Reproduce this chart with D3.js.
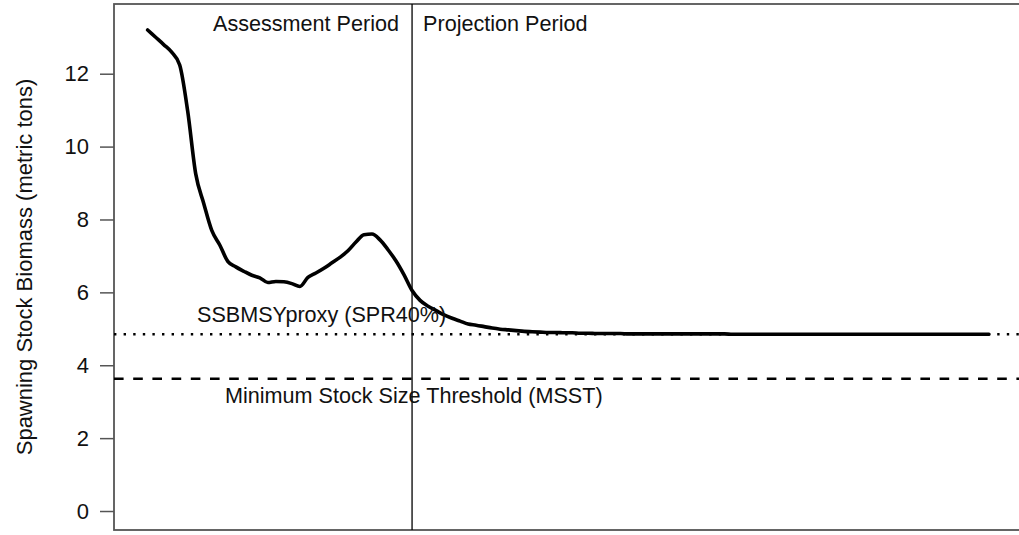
<!DOCTYPE html>
<html>
<head>
<meta charset="utf-8">
<script src="https://cdn.jsdelivr.net/npm/d3@7"></script>
<style>
  body { margin: 0; background: #fff; }
  text { font-family: "Liberation Sans", Arial, sans-serif; fill: #111; }
</style>
</head>
<body>
<svg width="1019" height="535"></svg>
<script>
// assessment period (annual SSB, metric tons)
const assessYears = [1986, 1987, 1988, 1989, 1990, 1991, 1992, 1993, 1994, 1995,
  1996, 1997, 1998, 1999, 2000, 2001, 2002, 2003, 2004, 2005, 2006, 2007, 2008,
  2009, 2010, 2011, 2012, 2013, 2014, 2015, 2016, 2017, 2018, 2019]
const assessSSB = [13.20, 13.00, 12.80, 12.59, 12.24, 10.97, 9.25, 8.44, 7.70, 7.30,
  6.85, 6.70, 6.58, 6.47, 6.40, 6.27, 6.30, 6.29, 6.24, 6.16, 6.41, 6.53, 6.66,
  6.81, 6.96, 7.14, 7.38, 7.58, 7.60, 7.44, 7.17, 6.86, 6.48, 6.05]

// projection period
const projYears = [2020, 2021, 2022, 2023, 2024, 2025, 2026, 2027, 2028, 2029,
  2030, 2031, 2032, 2033, 2034, 2035, 2036, 2037, 2038, 2039, 2040, 2041, 2042,
  2043, 2044, 2045, 2046, 2047, 2048, 2049, 2050, 2051, 2052, 2053, 2054, 2055,
  2056, 2057, 2058, 2059, 2060, 2061, 2062, 2063, 2064, 2065, 2066, 2067, 2068,
  2069, 2070, 2071, 2072, 2073, 2074, 2075, 2076, 2077, 2078, 2079, 2080, 2081,
  2082, 2083, 2084, 2085, 2086, 2087, 2088, 2089, 2090, 2091]
const projSSB = [5.78, 5.62, 5.50, 5.38, 5.29, 5.21, 5.13, 5.10, 5.06, 5.02,
  4.99, 4.97, 4.95, 4.93, 4.92, 4.91, 4.90, 4.90, 4.89, 4.89, 4.88, 4.88, 4.87,
  4.87, 4.87, 4.87, 4.86, 4.86, 4.86, 4.86, 4.86, 4.86, 4.86, 4.86, 4.86, 4.86,
  4.86, 4.86, 4.86, 4.85, 4.85, 4.85, 4.85, 4.85, 4.85, 4.85, 4.85, 4.85, 4.85,
  4.85, 4.85, 4.85, 4.85, 4.85, 4.85, 4.85, 4.85, 4.85, 4.85, 4.85, 4.85, 4.85,
  4.85, 4.85, 4.85, 4.85, 4.85, 4.85, 4.85, 4.85, 4.85, 4.85]

const ssbMsyProxy = 4.85
const msst = 3.63
const lastAssessYear = 2019
const yTicks = [0, 2, 4, 6, 8, 10, 12]

const svg = d3.select("svg")

let x = d3.scaleLinear().domain([1981.8, 2095.2]).range([114, 1022.6])
let y = d3.scaleLinear().domain([-0.521, 13.913]).range([530, 4])

let series = assessYears.map((yr, i) => ({year: yr, ssb: assessSSB[i]}))
  .concat(projYears.map((yr, i) => ({year: yr, ssb: projSSB[i]})))

// plot box (right side falls off the picture)
svg.append("rect")
    .attr("x", x.range()[0])
    .attr("y", y.range()[1])
    .attr("width", x.range()[1] - x.range()[0])
    .attr("height", y.range()[0] - y.range()[1])
    .attr("fill", "none")
    .attr("stroke", "#555")
    .attr("stroke-width", 1.8)

// y axis
let yAxis = d3.axisLeft(y).tickValues(yTicks).tickSize(14).tickPadding(11)
let gy = svg.append("g")
    .attr("transform", `translate(${x.range()[0]},0)`)
    .call(yAxis)
gy.select(".domain").remove()
gy.selectAll(".tick line").attr("stroke", "#555").attr("stroke-width", 1.5)
gy.selectAll(".tick text")
    .style("font-size", "22px")
    .style("font-family", "'Liberation Sans', Arial, sans-serif")
    .attr("fill", "#111")

svg.append("text")
    .attr("transform", `translate(32,267) rotate(-90)`)
    .attr("text-anchor", "middle")
    .style("font-size", "22px")
    .text("Spawning Stock Biomass (metric tons)")

// reference lines
svg.append("line")
    .attr("x1", x.range()[0]).attr("x2", 1019)
    .attr("y1", y(ssbMsyProxy)).attr("y2", y(ssbMsyProxy))
    .attr("stroke", "#000").attr("stroke-width", 2.5)
    .attr("stroke-dasharray", "2.4,7.2")

svg.append("line")
    .attr("x1", x.range()[0]).attr("x2", 1019)
    .attr("y1", y(msst)).attr("y2", y(msst))
    .attr("stroke", "#000").attr("stroke-width", 2.5)
    .attr("stroke-dasharray", "9.6,9.6")

// assessment / projection divider
svg.append("line")
    .attr("x1", x(lastAssessYear)).attr("x2", x(lastAssessYear))
    .attr("y1", y.range()[1]).attr("y2", y.range()[0])
    .attr("stroke", "#000").attr("stroke-width", 1.3)

// SSB trajectory
svg.append("path")
    .datum(series)
    .attr("fill", "none")
    .attr("stroke", "#000")
    .attr("stroke-width", 3.6)
    .attr("stroke-linejoin", "round")
    .attr("stroke-linecap", "round")
    .attr("d", d3.line().x(d => x(d.year)).y(d => y(d.ssb)).curve(d3.curveMonotoneX))

// labels
let labels = svg.append("g").style("font-size", "21.6px")
labels.append("text")
    .attr("x", x(lastAssessYear) - 13).attr("y", 31)
    .attr("text-anchor", "end")
    .text("Assessment Period")
labels.append("text")
    .attr("x", x(lastAssessYear) + 11).attr("y", 31)
    .text("Projection Period")
labels.append("text")
    .attr("x", 197).attr("y", 322)
    .text("SSBMSYproxy (SPR40%)")
labels.append("text")
    .attr("x", 225).attr("y", 403)
    .text("Minimum Stock Size Threshold (MSST)")
</script>
</body>
</html>
